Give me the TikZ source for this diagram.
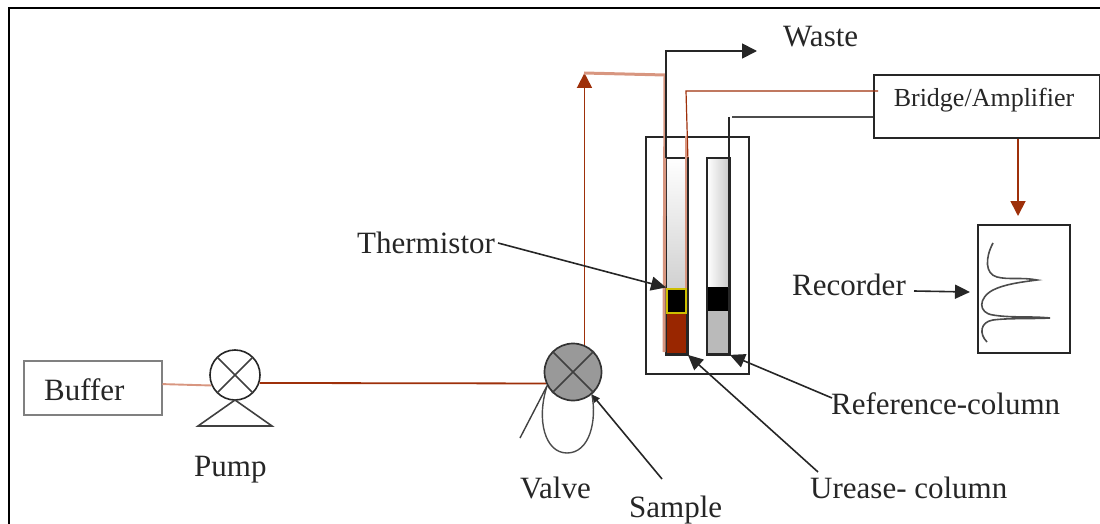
\documentclass[tikz,border=0pt]{standalone}
\usepackage{fontspec}
\setmainfont{Liberation Serif}
\usetikzlibrary{arrows.meta}
\definecolor{rust}{RGB}{158,48,10}
\definecolor{paleRust}{RGB}{216,150,128}
\definecolor{bedRust}{RGB}{153,38,0}
\definecolor{sensorYellow}{RGB}{205,190,0}
\tikzset{
  x=1pt,y=-1pt,
  label/.style={inner sep=0pt,font=\fontsize{31}{33}\selectfont,text=black!85},
  box/.style={draw=black!85,line width=1.9pt,inner sep=0pt,anchor=north west},
  pipe/.style={draw=rust,line width=1.8pt},
  wire/.style={draw=black!85,line width=1.7pt},
  flow/.style={-{Triangle[length=15pt,width=15pt]}},
  pointer/.style={draw=black!85,line width=1.6pt,-{Triangle[length=15pt,width=14pt]}},
  cross/.style={draw=black!75,line width=1.5pt}
}
\begin{document}
\begin{tikzpicture}
  \useasboundingbox (0,0) rectangle (1100,524);
  % frame
  \draw[black,line width=2.6pt] (9,524) -- (9,8) -- (1100,8);

  % boxes
  \node[box,draw=black!50,line width=1.5pt,minimum width=138,minimum height=54] (buffer) at (23,360) {};
  \node[label,anchor=west] (bufferText) at (44,390) {Buffer};
  \node[box,minimum width=226,minimum height=63] (bridge) at (873,74) {};
  \node[label,font=\fontsize{26}{28}\selectfont] (bridgeText) at (984,100) {Bridge/Amplifier};
  \node[box,minimum width=92,minimum height=128] (recorder) at (977,224) {};
  \node[box,minimum width=103,minimum height=237] (bath) at (645,136) {};

  % columns
  \node[box,minimum width=20,minimum height=195,fill=white] (urease) at (666,158) {};
  \node[box,minimum width=21,minimum height=195,fill=white] (reference) at (707,158) {};
  \shade[top color=white,bottom color=black!18] (urease.north west) rectangle (686,287);
  \shade[left color=white,right color=black!20] (reference.north west) rectangle (728,287);
  \node[draw=none,fill=bedRust,minimum width=20,minimum height=42,anchor=north west,inner sep=0pt] (ureaseBed) at (666,311) {};
  \node[draw=none,fill=black!27,minimum width=21,minimum height=42,anchor=north west,inner sep=0pt] (referenceBed) at (707,311) {};
  \node[draw=none,fill=black,minimum width=21,minimum height=24,anchor=north west,inner sep=0pt] (referenceBlack) at (707,287) {};
  \draw[black!85,line width=1.9pt] (urease.north west) rectangle (urease.south east);
  \draw[black!85,line width=1.9pt] (reference.north west) rectangle (reference.south east);
  \node[draw=sensorYellow,fill=black,line width=2pt,minimum width=19,minimum height=24,anchor=north west,inner sep=0pt] (thermistor) at (666,287.5) {};

  % pump and valve
  \node[draw=black!85,line width=1.6pt,circle,minimum size=50,inner sep=0pt] (pump) at (235,375) {};
  \draw[cross] (pump.north west) -- (pump.south east) (pump.north east) -- (pump.south west);
  \node[draw=black!80,fill=black!40,line width=1.7pt,circle,minimum size=57,inner sep=0pt] (valve) at (573,372) {};
  \draw[cross] (valve.north west) -- (valve.south east) (valve.north east) -- (valve.south west);
  \coordinate (pumpFoot) at (235,400);
  \coordinate (pumpLeft) at (198,426);
  \coordinate (pumpRight) at (272,426);
  \draw[black!75,line width=1.6pt] (pumpFoot) -- (pumpLeft) -- (pumpRight) -- cycle;

  % tubing
  \coordinate (riser) at (584,73);
  \coordinate (riserEnd) at (665,75);
  \coordinate (tubeEnd) at (664,352);
  \coordinate (sensorBend) at (686,91);
  \coordinate (sensorEnd) at (878,91);
  \coordinate (wasteBend) at (666,51);
  \coordinate (wasteEnd) at (757,51);
  \coordinate (refBend) at (729,117);
  \coordinate (refStart) at (732,117);
  \coordinate (refEnd) at (729,287);
  \draw[draw=paleRust,line width=1.9pt] (buffer.3) -- (pump.204);
  \draw[pipe] (pump.-18) -- (valve.203);
  \draw[pipe,flow] (valve.67) -- (valve.67 |- riser);
  \draw[draw=paleRust,line width=3pt] (riser) -- (riserEnd) -- (tubeEnd);
  \draw[draw=rust,line width=1.2pt] (urease.north east) -- (sensorBend) -- (sensorEnd);
  \draw[draw=paleRust,line width=1.6pt] (sensorBend |- bath.north) -- (sensorBend |- thermistor.north);
  \draw[pipe,flow] (bridge.south -| 1018,137) -- (1018,216);
  \draw[wire,flow] (urease.north west) -- (wasteBend) -- (wasteEnd);
  \draw[draw=black!70,line width=1.4pt] (refStart) -- (bridge.west |- refStart);
  \draw[wire] (refBend) -- (refEnd);

  % loop on the valve
  \draw[black!70,line width=1.4pt] (valve.208) .. controls (536,420) and (545,453) .. (567,453)
    .. controls (590,453) and (597,420) .. (valve.-50);

  % trace
  \draw[black!70,line width=1.6pt] (993,243) .. controls (985,258) and (985,274) .. (997,277)
    .. controls (1008,280) and (1022,277) .. (1037,280)
    .. controls (1022,282) and (1005,284) .. (993,290)
    .. controls (978,298) and (978,313) .. (993,315)
    .. controls (1010,318) and (1030,316) .. (1050,318)
    .. controls (1030,319) and (1008,318) .. (993,320)
    .. controls (980,322) and (979,334) .. (987,342);

  % labels
  \node[label,anchor=west] (wasteText) at (783,37) {Waste};
  \node[label,anchor=west] (thermistorText) at (357,243) {Thermistor};
  \node[label,anchor=west] (recorderText) at (792,285) {Recorder};
  \node[label,anchor=west] (referenceText) at (831,404) {Reference-column};
  \node[label,anchor=west] (ureaseText) at (810,488) {Urease- column};
  \node[label,anchor=west] (valveText) at (520,488) {Valve};
  \node[label,anchor=west] (sampleText) at (629,510) {Sample};
  \node[label,anchor=west] (pumpText) at (194,470) {Pump};

  % pointers
  \coordinate (thermistorTail) at (498,243);
  \coordinate (recorderTail) at (914,291);
  \coordinate (referenceTail) at (832,398);
  \coordinate (ureaseTail) at (818,472);
  \coordinate (sampleTail) at (662,479);
  \coordinate (valveTail) at (520,438);
  \draw[pointer] (thermistorTail) -- (thermistor.north west);
  \draw[pointer] (recorderTail) -- (970,292);
  \draw[pointer] (referenceTail) -- (reference.south east);
  \draw[pointer] (ureaseTail) -- (urease.south east);
  \draw[pointer,-{Triangle[length=8pt,width=7pt]}] (sampleTail) -- (valve.-50);
  \draw[black!75,line width=1.4pt] (valveTail) -- (valve.208);
\end{tikzpicture}
\end{document}
